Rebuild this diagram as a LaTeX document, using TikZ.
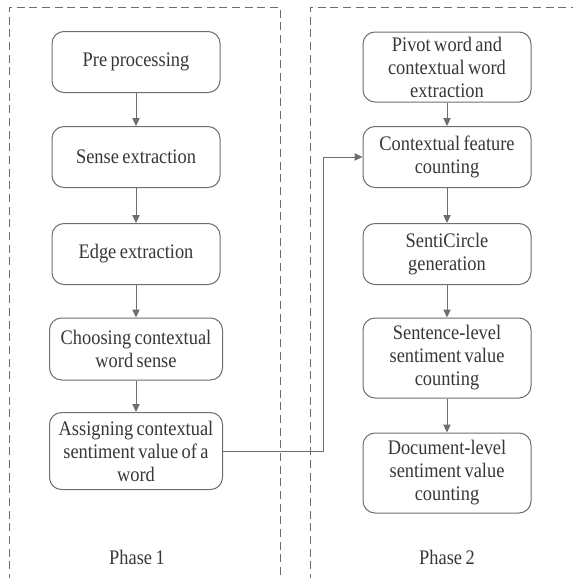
\documentclass[tikz,border=0pt]{standalone}
\usepackage{fontspec}
\setmainfont{Liberation Serif}[FakeStretch=0.89,WordSpace=0.75]
\usetikzlibrary{arrows.meta}

\definecolor{linegray}{RGB}{110,110,110}
\definecolor{textgray}{RGB}{55,55,55}

\tikzset{every picture/.style={line width=0.75pt}}
\tikzset{
  stepbox/.style={draw=linegray, rounded corners=9pt, minimum width=126pt, align=center, inner sep=0.75pt, text=textgray, font=\fontsize{15.5}{17.25}\selectfont},
  flow/.style={draw=linegray, -{Triangle[length=6pt,width=5.5pt]}},
  phasebox/.style={draw=linegray, dash pattern=on 6pt off 3.5pt},
  phaselabel/.style={text=textgray, inner sep=0.75pt, font=\fontsize{15.5}{17.25}\selectfont}
}

\begin{document}
\begin{tikzpicture}[x=0.75pt,y=0.75pt,yscale=-1,xscale=1]
\useasboundingbox (0,0) rectangle (572,578);

%Dashed phase frames
\draw [phasebox] (9,582) -- (9,7) -- (280,7) -- (280,582) ;
\draw [phasebox] (310,582) -- (310,7) -- (580,7) ;

% Phase 1 steps
\node [stepbox, minimum height=45.75pt] (pre) at (136,62) {Pre processing};
\node [stepbox, minimum height=45.75pt] (sense) at (136,157) {Sense extraction};
\node [stepbox, minimum height=45.75pt] (edge) at (136,254) {Edge extraction};
\node [stepbox, minimum height=46.5pt, minimum width=129.75pt] (choose) at (136,349) {Choosing contextual\\word sense};
\node [stepbox, minimum height=57.75pt, minimum width=129.75pt] (assign) at (136,451) {Assigning contextual\\sentiment value of a\\word};

% Phase 2 steps
\node [stepbox, minimum height=52.5pt] (pivot) at (447,67) {Pivot word and\\contextual word\\extraction};
\node [stepbox, minimum height=45.75pt] (ctx) at (447,157) {Contextual feature\\counting};
\node [stepbox, minimum height=45.75pt] (senti) at (447,254) {SentiCircle\\generation};
\node [stepbox, minimum height=60pt] (sent) at (447,358) {Sentence-level\\sentiment value\\counting};
\node [stepbox, minimum height=60pt] (doc) at (447,473) {Document-level\\sentiment value\\counting};

% Text Node
\node [phaselabel] (ph1) at (137,557) {Phase 1};
% Text Node
\node [phaselabel] (ph2) at (447,557) {Phase 2};

% Arrows
\draw [flow] (pre) -- (sense) ;
\draw [flow] (sense) -- (edge) ;
\draw [flow] (edge) -- (choose) ;
\draw [flow] (choose) -- (assign) ;
\draw [flow] (pivot) -- (ctx) ;
\draw [flow] (ctx) -- (senti) ;
\draw [flow] (senti) -- (sent) ;
\draw [flow] (sent) -- (doc) ;

%Link between phases
\coordinate (bend) at (323,0) ;
\draw [flow] (assign.east) -- (assign.east -| bend) |- (ctx.west) ;

\end{tikzpicture}
\end{document}
